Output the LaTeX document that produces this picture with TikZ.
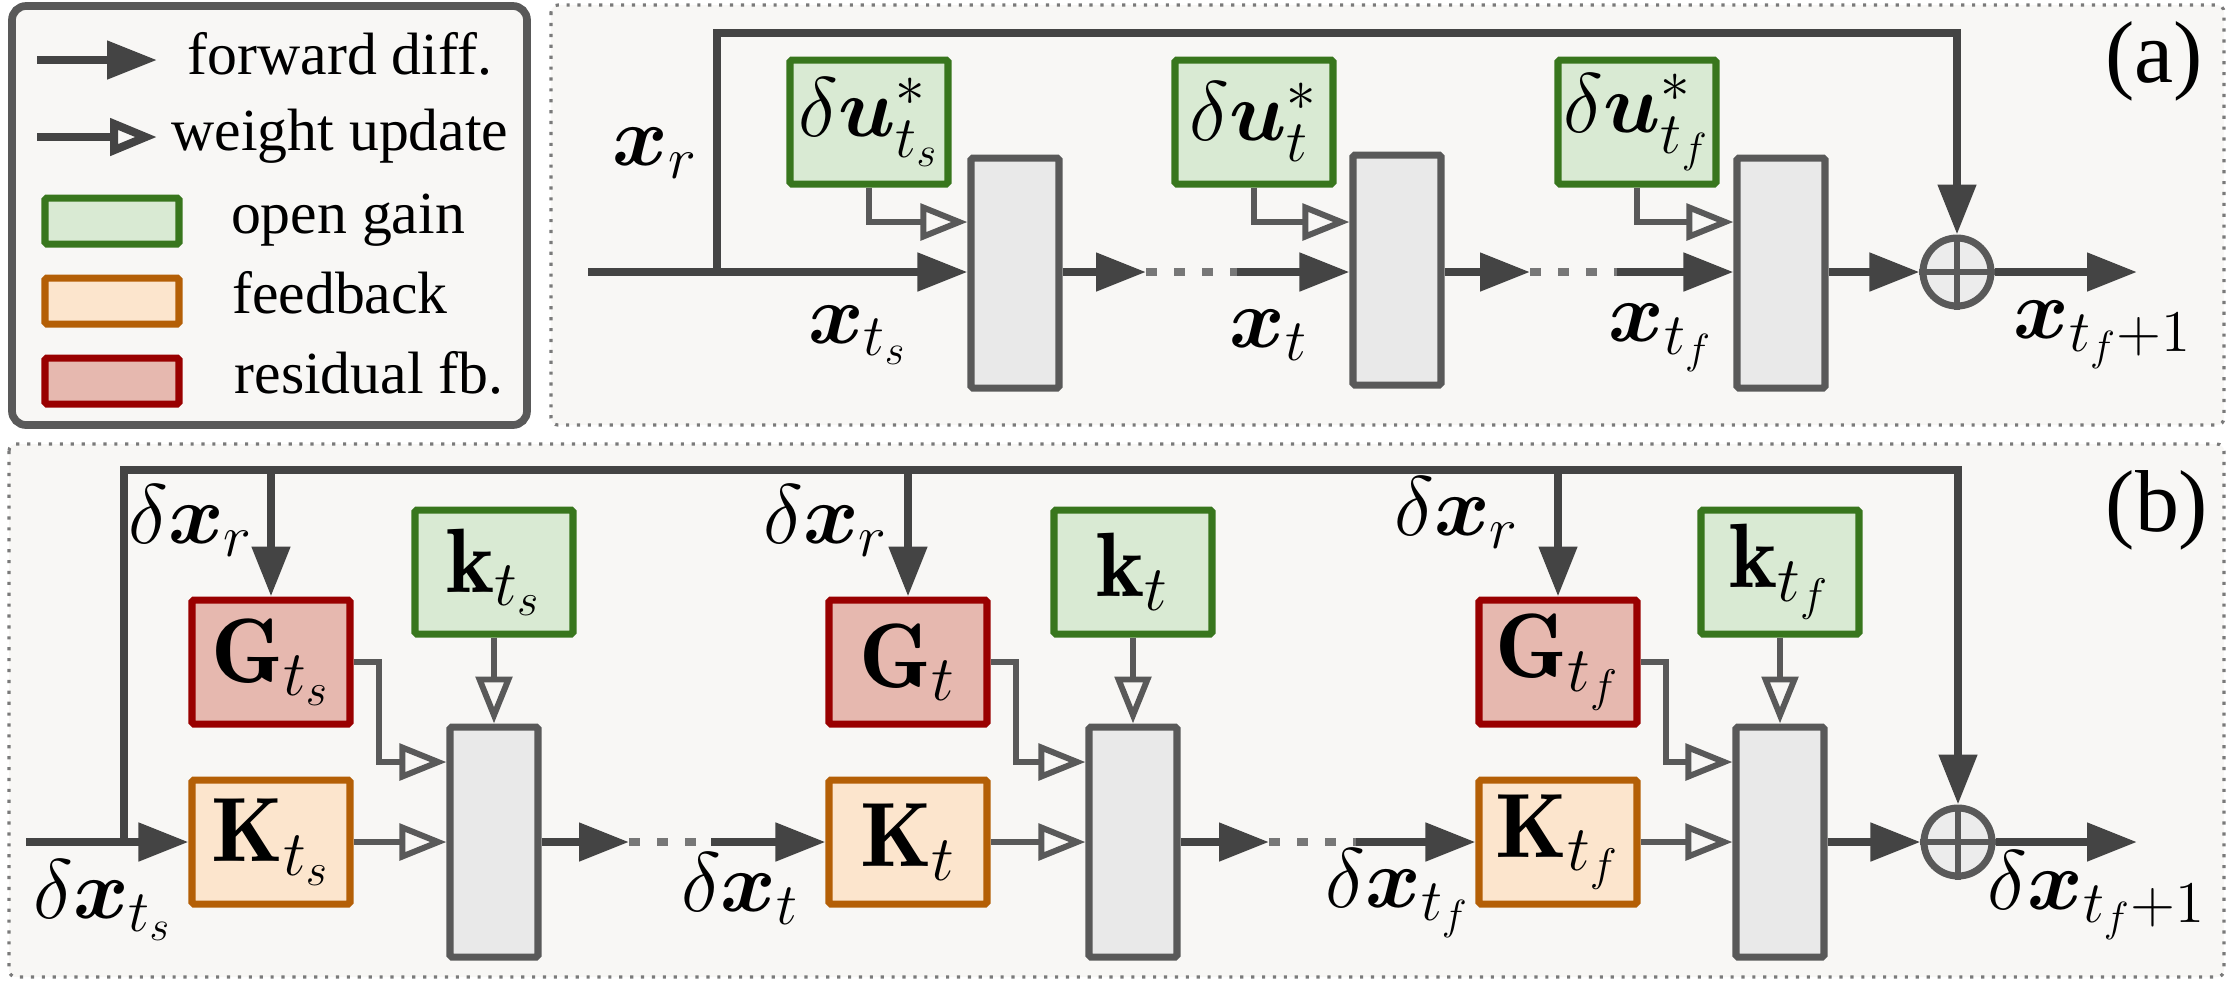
\documentclass[tikz,border=0pt]{standalone}
\usepackage{fix-cm}
\usepackage{amsmath, bm}
\usepackage{fontspec}
\newfontfamily\lgfont{Liberation Serif}
\usepackage{xcolor}
\usepackage{tikz}
\usetikzlibrary{
    arrows.meta,
    positioning,
    calc
}
\definecolor{bgc}{HTML}{F8F7F5}
\definecolor{framec}{HTML}{7A7A7A}
\definecolor{arrc}{HTML}{444444}
\definecolor{wuc}{HTML}{595959}
\definecolor{dotc}{HTML}{777777}
\definecolor{layerfill}{HTML}{E9E9E9}
\definecolor{sumfill}{HTML}{ECECEC}
\definecolor{gainfill}{HTML}{D9EAD3}
\definecolor{gaindraw}{HTML}{38761D}
\definecolor{fbfill}{HTML}{FCE5CD}
\definecolor{fbdraw}{HTML}{B45F06}
\definecolor{resfill}{HTML}{E6B8AF}
\definecolor{resdraw}{HTML}{990000}
\newcommand{\gainfont}{\fontsize{26}{30}\selectfont}
\newcommand{\lblfont}{\fontsize{24}{28}\selectfont}
\tikzset{
    panel/.style={
        draw=framec,
        fill=bgc,
        line width=0.9pt,
        dash pattern=on 0.9pt off 2.2pt,
        rounded corners=2pt
    },
    legendbox/.style={
        draw=wuc,
        fill=bgc,
        line width=2.2pt,
        rounded corners=4pt
    },
    gain/.style={
        rectangle,
        rounded corners=0.5pt,
        draw=gaindraw,
        fill=gainfill,
        line width=2pt,
        minimum width=15.8mm,
        minimum height=12.4mm,
        inner sep=0pt,
        font=\gainfont
    },
    feedback/.style={
        gain,
        draw=fbdraw,
        fill=fbfill
    },
    residual/.style={
        gain,
        draw=resdraw,
        fill=resfill
    },
    layer/.style={
        rectangle,
        rounded corners=0.5pt,
        draw=wuc,
        fill=layerfill,
        line width=2pt,
        minimum width=8.8mm,
        minimum height=23mm
    },
    sumnode/.style={
        circle,
        draw=wuc,
        fill=sumfill,
        line width=2pt,
        minimum size=6.8mm,
        inner sep=0pt
    },
    wire/.style={
        draw=arrc,
        line width=2.3pt
    },
    arrow/.style={
        wire,
        -{Triangle[length=5mm,width=3.7mm]}
    },
    update/.style={
        draw=wuc,
        line width=1.7pt,
        -{Triangle[open,length=4.7mm,width=3.6mm]}
    },
    skip/.style={
        draw=dotc,
        line width=2.3pt,
        dash pattern=on 3pt off 5pt
    },
    lbl/.style={
        font=\lblfont,
        inner sep=0pt
    },
    legtext/.style={
        font=\lgfont\fontsize{17}{20}\selectfont,
        inner sep=0pt,
        anchor=base
    },
    tag/.style={
        font=\lgfont\fontsize{25}{30}\selectfont,
        inner sep=0pt
    }
}

\begin{document}
\begin{tikzpicture}[x=0.1mm, y=-0.1mm]
\useasboundingbox (0,0) rectangle (2231,982);

\draw[legendbox] (12,6) rectangle (527,425);
\draw[panel] (551,5) rectangle (2224,425);
\draw[panel] (9,444) rectangle (2224,977);

% legend
\coordinate (lf0) at (37,60);
\coordinate (lf1) at (157,60);
\coordinate (lw0) at (37,137);
\coordinate (lw1) at (157,137);
\draw[arrow] (lf0) -- (lf1);
\draw[update, draw=arrc, line width=2.3pt] (lw0) -- (lw1);
\node[legtext] (lft) at (340,74) {forward diff.};
\node[legtext] (lwt) at (340,150) {weight update};
\node[gain, minimum width=13.4mm, minimum height=4.6mm] (lg) at (112,221) {};
\node[feedback, minimum width=13.4mm, minimum height=4.6mm] (lk) at (112,301) {};
\node[residual, minimum width=13.4mm, minimum height=4.6mm] (lr) at (112,381) {};
\node[legtext] (lgt) at (348,233) {open gain};
\node[legtext] (lkt) at (340,313) {feedback};
\node[legtext] (lrt) at (369,393) {residual fb.};

% (a) forward pass
\coordinate (xin) at (588,272);
\coordinate (xsplit) at (717,272);
\node[layer] (a1) at (1015,273) {};
\node[layer] (a2) at (1397,270) {};
\node[layer] (a3) at (1781,273) {};
\node[gain, font=\lblfont] (u1) at (869,122) {$\delta\bm{u}^*_{t_s}$};
\node[gain, font=\lblfont] (u2) at (1254,122) {$\delta\bm{u}^*_{t}$};
\node[gain, font=\lblfont] (u3) at (1637,122) {$\delta\bm{u}^*_{t_f}$};
\node[sumnode] (sa) at (1957,272) {};
\coordinate (xtop) at (1957,33);
\coordinate (d1a) at (1146,272);
\coordinate (d1b) at (1237,272);
\coordinate (d2a) at (1530,272);
\coordinate (d2b) at (1617,272);
\coordinate (xout) at (2137,272);

\draw[arrow] (xin) -- (a1.west |- xin);
\draw[arrow] (xsplit) |- (xtop) -- (sa);
\draw[arrow] (a1.east |- xin) -- (d1a);
\draw[skip] (d1a) -- (d1b);
\draw[arrow] (d1b) -- (a2.west |- xin);
\draw[arrow] (a2.east |- xin) -- (d2a);
\draw[skip] (d2a) -- (d2b);
\draw[arrow] (d2b) -- (a3.west |- xin);
\draw[arrow] (a3.east |- xin) -- (sa);
\draw[arrow] (sa) -- (xout);
\draw[update] (u1.south) |- ($(a1.west |- xin)+(0,-50)$);
\draw[update] (u2.south) |- ($(a2.west |- xin)+(0,-50)$);
\draw[update] (u3.south) |- ($(a3.west |- xin)+(0,-50)$);
\draw[wuc, line width=1.7pt] (sa.north) -- (sa.south) (sa.west) -- (sa.east);

\node[lbl] (lxr) at (655,153) {$\bm{x}_r$};
\node[lbl] (lx1) at (858,335) {$\bm{x}_{t_s}$};
\node[lbl] (lx2) at (1269,335) {$\bm{x}_{t}$};
\node[lbl] (lx3) at (1661,338) {$\bm{x}_{t_f}$};
\node[lbl] (lx4) at (2103,335) {$\bm{x}_{t_f+1}$};
\node[tag] (taga) at (2154,61) {(a)};

% (b) backward pass
\coordinate (dxin) at (26,842);
\coordinate (dxsplit) at (124,842);
\coordinate (dxtop) at (1958,470);
\node[residual] (G1) at (271,662) {$\mathbf{G}_{t_s}$};
\node[feedback] (K1) at (271,842) {$\mathbf{K}_{t_s}$};
\node[gain] (k1) at (494,572) {$\mathbf{k}_{t_s}$};
\node[layer] (B1) at (494,842) {};
\node[residual] (G2) at (908,662) {$\mathbf{G}_{t}$};
\node[feedback] (K2) at (908,842) {$\mathbf{K}_{t}$};
\node[gain] (k2) at (1133,572) {$\mathbf{k}_{t}$};
\node[layer] (B2) at (1133,842) {};
\node[residual] (G3) at (1558,662) {$\mathbf{G}_{t_f}$};
\node[feedback] (K3) at (1558,842) {$\mathbf{K}_{t_f}$};
\node[gain] (k3) at (1780,572) {$\mathbf{k}_{t_f}$};
\node[layer] (B3) at (1780,842) {};
\node[sumnode] (sb) at (1958,842) {};
\coordinate (e1a) at (629,842);
\coordinate (e1b) at (711,842);
\coordinate (e2a) at (1269,842);
\coordinate (e2b) at (1356,842);
\coordinate (dxout) at (2137,842);

\draw[arrow] (dxin) -- (K1);
\draw[arrow] (dxsplit) |- (dxtop) -- (sb);
\draw[arrow] (G1.north |- dxtop) -- (G1);
\draw[arrow] (G2.north |- dxtop) -- (G2);
\draw[arrow] (G3.north |- dxtop) -- (G3);
\draw[update] (G1.east) -- ++(25,0) |- ($(B1.west)+(0,-80)$);
\draw[update] (G2.east) -- ++(25,0) |- ($(B2.west)+(0,-80)$);
\draw[update] (G3.east) -- ++(25,0) |- ($(B3.west)+(0,-80)$);
\draw[update] (K1) -- (B1);
\draw[update] (K2) -- (B2);
\draw[update] (K3) -- (B3);
\draw[update] (k1) -- (B1);
\draw[update] (k2) -- (B2);
\draw[update] (k3) -- (B3);
\draw[arrow] (B1) -- (e1a);
\draw[skip] (e1a) -- (e1b);
\draw[arrow] (e1b) -- (K2);
\draw[arrow] (B2) -- (e2a);
\draw[skip] (e2a) -- (e2b);
\draw[arrow] (e2b) -- (K3);
\draw[arrow] (B3) -- (sb);
\draw[arrow] (sb) -- (dxout);
\draw[wuc, line width=1.7pt] (sb.north) -- (sb.south) (sb.west) -- (sb.east);

\node[lbl, anchor=east] (ldr1) at (254,521) {$\delta\bm{x}_r$};
\node[lbl, anchor=east] (ldr2) at (889,521) {$\delta\bm{x}_r$};
\node[lbl, anchor=east] (ldr3) at (1520,513) {$\delta\bm{x}_r$};
\node[lbl] (ldx1) at (103,900) {$\delta\bm{x}_{t_s}$};
\node[lbl] (ldx2) at (740,889) {$\delta\bm{x}_{t}$};
\node[lbl] (ldx3) at (1398,893) {$\delta\bm{x}_{t_f}$};
\node[lbl] (ldx4) at (2097,895) {$\delta\bm{x}_{t_f+1}$};
\node[tag] (tagb) at (2157,510) {(b)};
\end{tikzpicture}
\end{document}
